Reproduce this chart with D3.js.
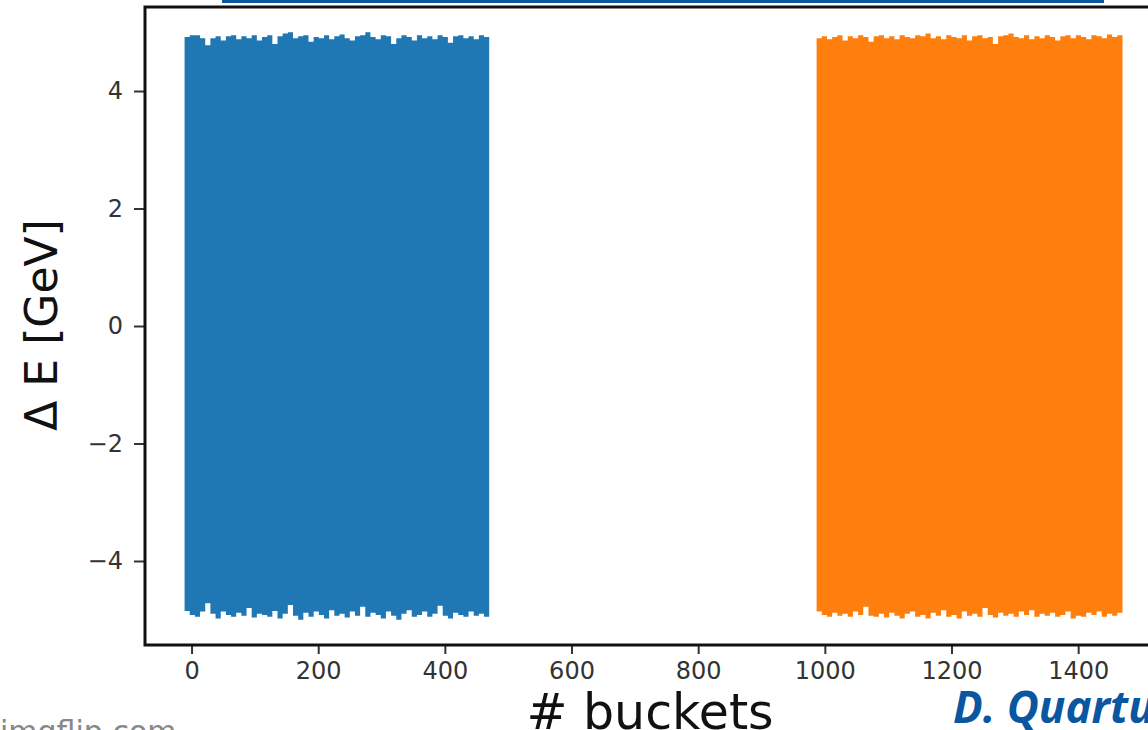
<!DOCTYPE html>
<html>
<head>
<meta charset="utf-8">
<script src="https://cdn.jsdelivr.net/npm/d3@7"></script>
<style>
  body { margin: 0; background: #fff; }
  svg { display: block; }
  .tick text { font-family: "DejaVu Sans", sans-serif; fill: #333; }
</style>
</head>
<body>
<div id="chart"></div>
<script>
// ticks
var xTicks = [0, 200, 400, 600, 800, 1000, 1200, 1400];
var yTicks = [-4, -2, 0, 2, 4];

// bucket span of each band
var blueSpan = [-11, 470];
var orangeSpan = [987, 1470];

// envelope of the oscillating dE trace (GeV)
var blueTop = [4.92,4.95,4.95,4.90,4.78,4.90,4.93,4.86,4.93,4.95,4.88,4.93,4.90,4.95,4.86,4.92,4.95,4.80,4.93,4.98,5.00,4.90,4.93,4.95,4.84,4.92,4.90,4.95,4.88,4.93,4.96,4.90,4.86,4.93,4.95,5.00,4.92,4.88,4.95,4.93,4.80,4.90,4.95,4.92,4.86,4.95,4.90,4.93,4.88,4.95,4.92,4.82,4.93,4.95,4.90,4.93,4.88,4.95,4.92,4.90];
var blueBottom = [-4.85,-4.92,-4.95,-4.86,-4.72,-4.90,-4.98,-4.86,-4.92,-4.95,-4.88,-4.93,-4.80,-4.96,-4.90,-4.92,-4.95,-4.85,-4.98,-4.90,-4.75,-4.93,-5.00,-4.88,-4.95,-4.86,-4.92,-4.98,-4.84,-4.93,-4.90,-4.96,-4.86,-4.93,-4.78,-4.95,-4.88,-4.92,-4.98,-4.86,-4.93,-5.00,-4.90,-4.84,-4.95,-4.92,-4.86,-4.95,-4.90,-4.76,-4.93,-4.98,-4.88,-4.92,-4.95,-4.86,-4.93,-4.90,-4.95,-4.88];
var orangeTop = [4.90,4.93,4.88,4.92,4.95,4.86,4.93,4.90,4.95,4.92,4.84,4.93,4.95,4.90,4.93,4.88,4.95,4.92,4.90,4.95,4.93,4.98,4.90,4.93,4.88,4.95,4.92,4.90,4.95,4.86,4.93,4.95,4.90,4.92,4.80,4.93,4.95,4.98,4.92,4.90,4.95,4.88,4.93,4.90,4.95,4.92,4.86,4.93,4.95,4.90,4.95,4.92,4.88,4.95,4.93,4.90,4.96,4.92,4.95,4.93];
var orangeBottom = [-4.86,-4.92,-4.95,-4.88,-4.93,-4.90,-4.95,-4.86,-4.92,-4.78,-4.93,-4.95,-4.90,-4.96,-4.88,-4.93,-4.98,-4.90,-4.86,-4.95,-4.92,-4.98,-4.88,-4.93,-4.84,-4.95,-4.92,-4.98,-4.86,-4.93,-4.90,-4.95,-4.80,-4.92,-4.96,-4.88,-4.93,-4.90,-4.95,-4.86,-4.92,-4.84,-4.95,-4.90,-4.93,-4.88,-4.95,-4.92,-4.86,-4.98,-4.93,-4.95,-4.88,-4.92,-4.86,-4.95,-4.90,-4.93,-4.88,-4.92];

var W = 1148, H = 730;
var frame = {left: 145, top: 7, bottom: 645};

var x = d3.scaleLinear()
    .domain([-73.5, 1543.5])
    .range([frame.left, frame.left + 1617 * 0.6333]);
var y = d3.scaleLinear()
    .domain([-5.43, 5.43])
    .range([frame.bottom, frame.top]);

var svg = d3.select("#chart").append("svg")
    .attr("width", W)
    .attr("height", H);

svg.append("rect").attr("width", W).attr("height", H).attr("fill", "#fff");

// bands: area between lower and upper envelope
function band(span, top, bottom, color) {
  var idx = d3.scaleLinear().domain([0, top.length - 1]).range(span);
  var pts = top.map(function(t, i) { return {b: idx(i), hi: t, lo: bottom[i]}; });
  var area = d3.area()
      .curve(d3.curveStepAfter)
      .x(function(d) { return x(d.b); })
      .y0(function(d) { return y(d.lo); })
      .y1(function(d) { return y(d.hi); });
  svg.append("path")
      .datum(pts)
      .attr("fill", color)
      .attr("d", area);
}
band(blueSpan, blueTop, blueBottom, "#1f77b4");
band(orangeSpan, orangeTop, orangeBottom, "#ff7f0e");

// axes
var xAxis = d3.axisBottom(x)
    .tickValues(xTicks)
    .tickSize(9)
    .tickPadding(8)
    .tickFormat(d3.format("d"));
var gx = svg.append("g")
    .attr("transform", "translate(0," + frame.bottom + ")")
    .call(xAxis);

var yAxis = d3.axisLeft(y)
    .tickValues(yTicks)
    .tickSize(11)
    .tickPadding(11)
    .tickFormat(function(d) { return d < 0 ? "\u2212" + Math.abs(d) : d; });
var gy = svg.append("g")
    .attr("transform", "translate(" + frame.left + ",0)")
    .call(yAxis);

[gx, gy].forEach(function(g) {
  g.select(".domain").remove();
  g.selectAll(".tick line").attr("stroke", "#333").attr("stroke-width", 2);
  g.selectAll(".tick text").style("font-size", "24px");
});

// frame (right edge is off the picture)
svg.append("path")
    .attr("d", "M" + W + "," + frame.top + "H" + frame.left + "V" + frame.bottom + "H" + W)
    .attr("fill", "none")
    .attr("stroke", "#111")
    .attr("stroke-width", 3);

// axis titles
svg.append("text")
    .attr("transform", "translate(57,325) rotate(-90)")
    .attr("text-anchor", "middle")
    .style("font-family", "DejaVu Sans, sans-serif")
    .style("font-size", "44px")
    .attr("fill", "#111")
    .text("\u0394 E [GeV]");

svg.append("text")
    .attr("x", 650)
    .attr("y", 729)
    .attr("text-anchor", "middle")
    .style("font-family", "DejaVu Sans, sans-serif")
    .style("font-size", "49px")
    .attr("fill", "#111")
    .text("# buckets");

// slide decorations
svg.append("rect")
    .attr("x", 222).attr("y", 0)
    .attr("width", 882).attr("height", 3)
    .attr("fill", "#0b56a0");

svg.append("text")
    .attr("x", 953)
    .attr("y", 723)
    .style("font-family", "Open Sans, sans-serif")
    .style("font-weight", "bold")
    .style("font-style", "italic")
    .style("font-size", "44px")
    .attr("fill", "#0b56a0")
    .text("D. Quartu");

svg.append("text")
    .attr("x", 0)
    .attr("y", 742)
    .style("font-family", "DejaVu Sans, sans-serif")
    .style("font-size", "30px")
    .attr("fill", "#888")
    .text("imgflip.com");
</script>
</body>
</html>
